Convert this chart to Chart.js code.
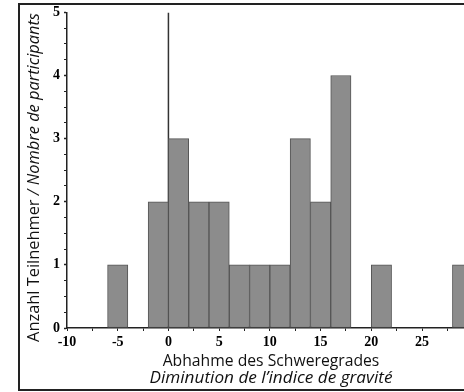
<!DOCTYPE html>
<html>
<head>
<meta charset="utf-8">
<script src="https://cdn.jsdelivr.net/npm/chart.js@4/dist/chart.umd.min.js"></script>
<style>
  html, body { margin: 0; padding: 0; background: #fff; overflow: hidden; }
  #wrap { width: 464px; height: 392px; overflow: hidden; position: relative; }
  canvas { display: block; }
</style>
</head>
<body>
<div id="wrap"><canvas id="c" width="510" height="392"></canvas></div>
<script>
// ---- data ----
const binCenters = [-5, -1, 1, 3, 5, 7, 9, 11, 13, 15, 17, 21, 29];
const counts     = [ 1,  2, 3, 2, 2, 1, 1,  1,  3,  2,  4,  1,  1];
const xTitleDe = "Abhahme des Schweregrades";
const xTitleFr = "Diminution de l\u2019indice de gravit\u00e9";
const yTitleDe = "Anzahl Teilnehmer ";
const yTitleFr = "/ Nombre de participants";
const zeroLine = [{x: 0, y: 0}, {x: 0, y: 5}];

const barData = binCenters.map((c, i) => ({x: c, y: counts[i]}));

function fitSize(ctx, style, family, text, target) {
  ctx.font = style + ' 20px ' + family;
  const w = ctx.measureText(text).width;
  return 20 * target / w;
}

const decorPlugin = {
  id: 'decor',
  beforeDraw(chart) {
    const ctx = chart.ctx;
    ctx.save();
    ctx.fillStyle = '#fff';
    ctx.fillRect(0, 0, chart.width, chart.height);
    ctx.restore();
  },
  afterDraw(chart) {
    const ctx = chart.ctx;
    const fam = '"Open Sans", "Noto Sans", sans-serif';
    ctx.save();
    // frame
    ctx.strokeStyle = '#222';
    ctx.lineWidth = 2;
    ctx.strokeRect(19, 4, chart.width + 20, 386);
    // x title
    ctx.fillStyle = '#111';
    ctx.textAlign = 'center';
    ctx.textBaseline = 'middle';
    let s1 = fitSize(ctx, 'normal', fam, xTitleDe, 217);
    ctx.font = 'normal ' + s1 + 'px ' + fam;
    ctx.fillText(xTitleDe, 271, 362);
    let s2 = fitSize(ctx, 'italic', fam, xTitleFr, 243);
    ctx.font = 'italic ' + s2 + 'px ' + fam;
    ctx.fillText(xTitleFr, 271, 378);
    // y title (rotated, mixed styles)
    const size = 15;
    ctx.font = 'normal ' + size + 'px ' + fam;
    const w1 = ctx.measureText(yTitleDe).width;
    ctx.font = 'italic ' + size + 'px ' + fam;
    const w2 = ctx.measureText(yTitleFr).width;
    const fs = size * 329 / (w1 + w2);
    ctx.translate(34, 177.5);
    ctx.rotate(-Math.PI / 2);
    ctx.textAlign = 'left';
    ctx.font = 'normal ' + fs + 'px ' + fam;
    const tw1 = ctx.measureText(yTitleDe).width;
    ctx.font = 'italic ' + fs + 'px ' + fam;
    const tw2 = ctx.measureText(yTitleFr).width;
    const start = -(tw1 + tw2) / 2;
    ctx.font = 'normal ' + fs + 'px ' + fam;
    ctx.fillText(yTitleDe, start, 0);
    ctx.font = 'italic ' + fs + 'px ' + fam;
    ctx.fillText(yTitleFr, start + tw1, 0);
    ctx.restore();
  }
};

const tickFont = { family: '"Liberation Serif", "DejaVu Serif", serif', size: 14, weight: 'bold' };

new Chart(document.getElementById('c'), {
  type: 'bar',
  data: {
    datasets: [
      {
        type: 'bar',
        data: barData,
        backgroundColor: '#8c8c8c',
        borderColor: '#555',
        borderWidth: 1,
        borderSkipped: false,
        barPercentage: 1,
        categoryPercentage: 1,
        order: 1
      },
      {
        type: 'line',
        data: zeroLine,
        borderColor: '#333',
        borderWidth: 1.5,
        pointRadius: 0,
        fill: false,
        order: 2
      }
    ]
  },
  options: {
    responsive: false,
    animation: false,
    events: [],
    layout: { padding: { left: 0, top: 12, right: 17, bottom: 0 } },
    plugins: { legend: { display: false }, tooltip: { enabled: false } },
    scales: {
      x: {
        type: 'linear',
        min: -10,
        max: 32,
        offset: false,
        grid: { display: true, offset: false, drawOnChartArea: false, drawTicks: true, tickLength: 3, tickColor: '#222', tickWidth: 1 },
        border: { display: true, color: '#222', width: 1.5 },
        ticks: {
          stepSize: 2.5,
          autoSkip: false,
          maxRotation: 0,
          padding: 3,
          color: '#000',
          font: tickFont,
          callback: v => (v % 5 === 0 ? String(v) : '')
        },
        afterFit(s) { s.height = 64; }
      },
      y: {
        type: 'linear',
        min: 0,
        max: 5,
        grid: { display: true, drawOnChartArea: false, drawTicks: true, tickLength: 3, tickColor: '#222',
                tickWidth: c => (Number.isInteger(c.tick && c.tick.value) ? 1.5 : 1) },
        border: { display: true, color: '#222', width: 1.5 },
        ticks: {
          stepSize: 0.25,
          autoSkip: false,
          padding: 4,
          color: '#000',
          font: tickFont,
          callback: v => (Number.isInteger(v) ? String(v) : '')
        },
        afterFit(s) { s.width = 67; }
      }
    }
  },
  plugins: [decorPlugin]
});
</script>
</body>
</html>
